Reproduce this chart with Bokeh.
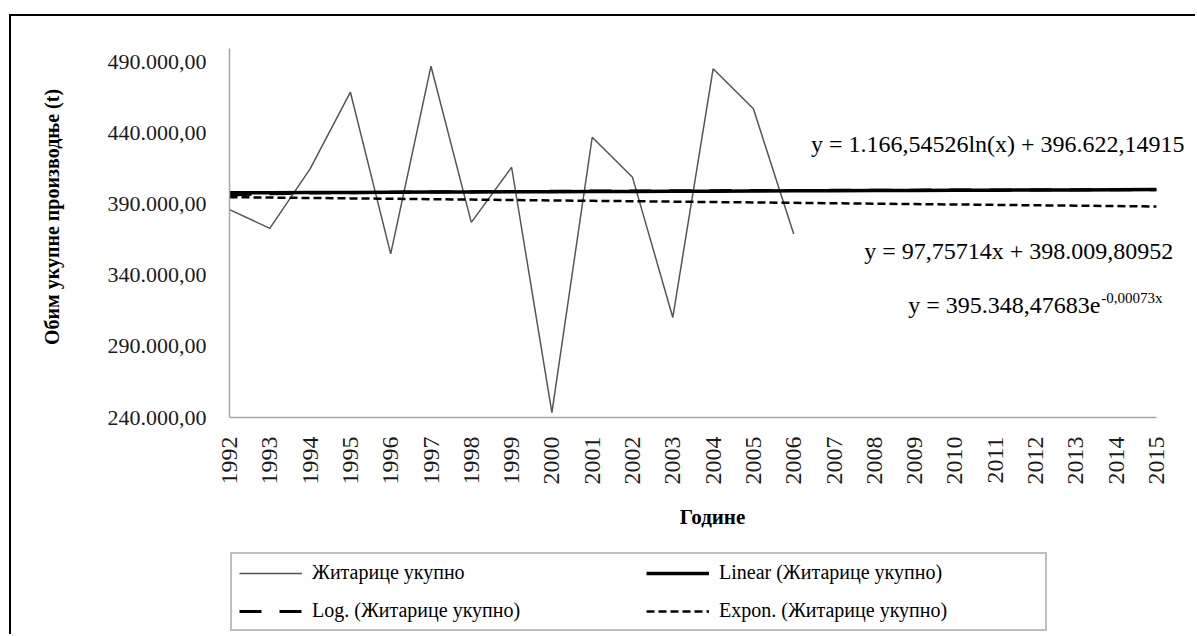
import math
from bokeh.plotting import figure
from bokeh.layouts import column, row
from bokeh.models import Range1d, FixedTicker, Label, Legend, LegendItem, Div, Spacer
from bokeh.embed import file_html
from bokeh.resources import INLINE

# ---------------- data ----------------
years = list(range(1992, 2016))                 # category axis (with forecast)
obs_years = list(range(1992, 2007))             # observed years
cereals = [386300, 373100, 414900, 468900, 355100, 487200, 377300, 416100,
           243500, 437200, 409000, 310400, 485400, 457200, 369200]

# trendline equations shown on the chart (x = 1 .. 24)
lin_slope, lin_icpt = 97.75714, 398009.80952
log_coef, log_icpt = 1166.54526, 396622.14915
exp_coef, exp_rate = 395348.47683, -0.00073

y_ticks = [240000, 290000, 340000, 390000, 440000, 490000]
y_tick_labels = ["240.000,00", "290.000,00", "340.000,00",
                 "390.000,00", "440.000,00", "490.000,00"]

series_names = ["Житарице укупно", "Linear (Житарице укупно)",
                "Log. (Житарице укупно)", "Expon. (Житарице укупно)"]
eq_log = "y = 1.166,54526ln(x) + 396.622,14915"
eq_lin = "y = 97,75714x + 398.009,80952"
eq_exp = "y = 395.348,47683e"
eq_exp_sup = "-0,00073x"

t = list(range(1, len(years) + 1))
linear = [lin_icpt + lin_slope * k for k in t]
logt = [log_icpt + log_coef * math.log(k) for k in t]
expo = [exp_coef * math.exp(exp_rate * k) for k in t]

FONT = "Liberation Serif"
STYLES = [dict(line_color="#555555", line_width=1.5),
          dict(line_color="black", line_width=3.5),
          dict(line_color="black", line_width=3, line_dash="22 18"),
          dict(line_color="black", line_width=2.5, line_dash="8 4")]
SERIES = [(obs_years, cereals), (years, linear), (years, logt), (years, expo)]

# ---------------- main chart ----------------
p = figure(width=1184, height=532, output_backend="svg", toolbar_location=None,
           x_range=Range1d(1992, 2015.97), y_range=Range1d(240000, 522180),
           min_border_left=218, min_border_right=0, min_border_top=0,
           min_border_bottom=131)
p.outline_line_color = None
p.grid.visible = False
p.background_fill_color = "white"
p.border_fill_color = "white"

xa = p.xaxis[0]
xa.ticker = FixedTicker(ticks=years)
xa.bounds = (1992, 2015)
xa.major_label_overrides = {y: str(y) for y in years}
xa.major_label_orientation = math.pi / 2
xa.major_tick_line_color = None
xa.minor_tick_line_color = None
xa.major_tick_in = 0
xa.major_tick_out = 0
xa.axis_line_color = "#a6a6a6"
xa.axis_line_width = 1.5
xa.major_label_text_font = FONT
xa.major_label_text_font_size = "24px"
xa.major_label_text_color = "#1a1a1a"
xa.major_label_standoff = 19
xa.axis_label = "Године"
xa.axis_label_text_font = FONT
xa.axis_label_text_font_style = "bold"
xa.axis_label_text_font_size = "21px"
xa.axis_label_text_color = "black"
xa.axis_label_standoff = 17

ya = p.yaxis[0]
ya.ticker = FixedTicker(ticks=y_ticks)
ya.bounds = (240000, 500000)
ya.major_label_overrides = dict(zip(y_ticks, y_tick_labels))
ya.major_tick_line_color = None
ya.minor_tick_line_color = None
ya.major_tick_in = 0
ya.major_tick_out = 0
ya.axis_line_color = "#a6a6a6"
ya.axis_line_width = 1.5
ya.major_label_text_font = FONT
ya.major_label_text_font_size = "22px"
ya.major_label_text_color = "#1a1a1a"
ya.major_label_standoff = 23
ya.axis_label = "Обим укупне производње (t)"
ya.axis_label_text_font = FONT
ya.axis_label_text_font_style = "bold"
ya.axis_label_text_font_size = "20px"
ya.axis_label_text_color = "black"
ya.axis_label_standoff = 42

for (xs, ys), st in zip(SERIES, STYLES):
    p.line(xs, ys, **st)


def eq_label(x, y, text, size, align):
    return Label(x=x, y=y, text=text, text_align=align, text_baseline="middle",
                 text_font=FONT, text_font_size=size, text_color="black")


p.add_layout(eq_label(2015.70, 432700, eq_log, "24px", "right"))
p.add_layout(eq_label(2015.42, 357400, eq_lin, "24px", "right"))
p.add_layout(eq_label(2013.61, 319400, eq_exp, "24px", "right"))
p.add_layout(eq_label(2013.63, 323800, eq_exp_sup, "15px", "left"))

# ---------------- legend strip ----------------
lg = figure(width=1184, height=86, output_backend="svg", toolbar_location=None,
            x_axis_location=None, y_axis_location=None,
            x_range=Range1d(0, 1), y_range=Range1d(0, 1),
            min_border_left=218, min_border_right=0, min_border_top=0,
            min_border_bottom=0)
lg.outline_line_color = None
lg.grid.visible = False
lg.background_fill_color = "white"
lg.border_fill_color = "white"
keys = [lg.line(xs, ys, **st) for (xs, ys), st in zip(SERIES, STYLES)]
legend = Legend(items=[LegendItem(label=series_names[i], renderers=[keys[i]])
                       for i in range(4)],
                orientation="horizontal", nrows=2, location=(1, 3))
legend.border_line_color = "#808080"
legend.border_line_width = 2
legend.background_fill_alpha = 0
legend.padding = 7
legend.margin = 0
legend.spacing = 15
legend.glyph_width = 63
legend.glyph_height = 22
legend.label_height = 22
legend.label_width = 319
legend.label_standoff = 10
legend.label_text_font = FONT
legend.label_text_font_size = "20px"
legend.label_text_color = "black"
lg.add_layout(legend)

# ---------------- outer frame edges ----------------
top_edge = Div(text="", width=1186, height=2, margin=0,
               styles={"background-color": "black"})
left_edge = Div(text="", width=2, height=618, margin=0,
                styles={"background-color": "black"})

layout = column(Spacer(height=14, margin=0),
                row(Spacer(width=9, margin=0), top_edge),
                row(Spacer(width=9, margin=0), left_edge, column(p, lg)))
open("out.html", "w").write(file_html(layout, INLINE))
